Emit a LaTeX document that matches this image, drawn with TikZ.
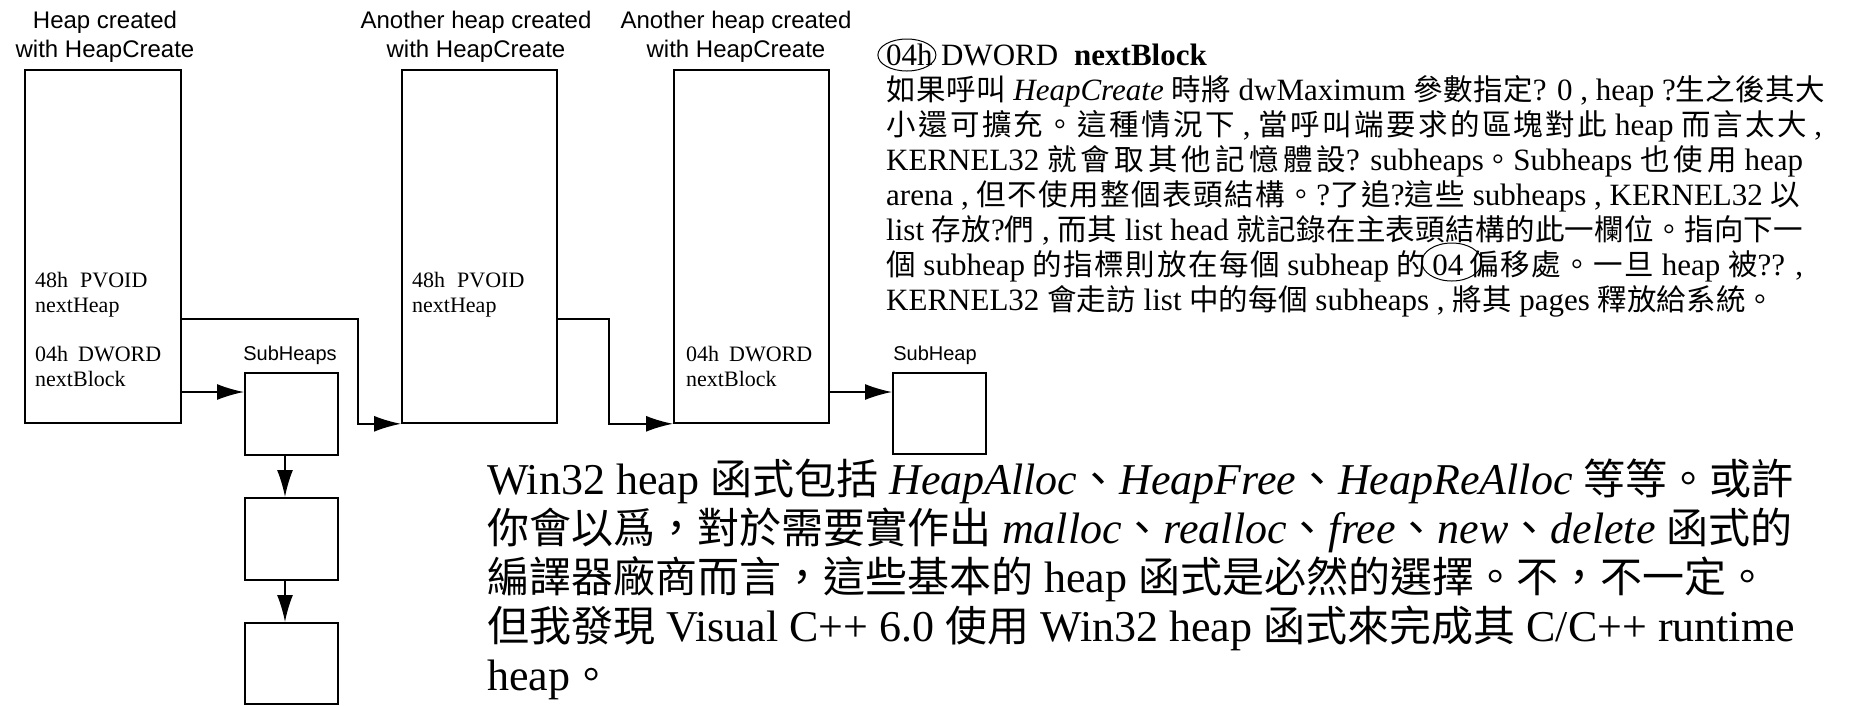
\documentclass[tikz,border=0pt]{standalone}
\usepackage{fontspec}
\newfontfamily\sansf{Liberation Sans}
\setmainfont{Liberation Serif}
\newfontfamily\cjk{Noto Sans CJK TC}
\usetikzlibrary{arrows.meta,calc}
\def\cjksize{29.5}
\def\Cfirst#1{#1\Cnext}
\def\Cnext#1{\ifx\relax#1\else\hskip0pt plus 1fil\relax#1\expandafter\Cnext\fi}
\newcommand\C[1]{{\cjk\fontsize{\cjksize}{\cjksize}\selectfont\Cfirst#1\relax}}
\newcommand\ringtxt[1]{\tikz[baseline=0pt,x=1pt,y=1pt]{\node[inner sep=0pt,anchor=base] (o04) at (0,0) {#1}; \draw[overlay,line width=1pt] ($(o04.base)+(4,13)$) ellipse [x radius=30, y radius=19];}}
\begin{document}
\begin{tikzpicture}[x=1pt,y=-1pt,
  box/.style={draw, line width=1.8pt, inner sep=0pt, anchor=north west},
  arr/.style={line width=1.7pt, -{Latex[length=27pt,width=16pt]}},
  ttl/.style={anchor=base, inner sep=0pt, font=\sansf\fontsize{24}{28}\selectfont},
  sub/.style={anchor=base, inner sep=0pt, font=\sansf\fontsize{20}{24}\selectfont},
  lab/.style={anchor=base west, inner sep=0pt, font=\fontsize{22}{25}\selectfont},
  para/.style={anchor=base west, inner sep=0pt, font=\def\cjksize{29.5}\fontsize{31}{34}\selectfont},
  body/.style={anchor=base west, inner sep=0pt, font=\def\cjksize{42}\fontsize{44}{48}\selectfont},
  ring/.style={line width=1pt}]
\fill[white] (0,0) rectangle (1850,705);
\useasboundingbox (0,0) rectangle (1850,705);

% titles
\node[ttl] (t1a) at (105,28) {Heap created};
\node[ttl] (t1b) at (105,57) {with HeapCreate};
\node[ttl] (t2a) at (476,28) {Another heap created};
\node[ttl] (t2b) at (476,57) {with HeapCreate};
\node[ttl] (t3a) at (736,28) {Another heap created};
\node[ttl] (t3b) at (736,57) {with HeapCreate};

% heap boxes
\node[box, minimum width=156pt, minimum height=353pt] (b1) at (24,69) {};
\node[box, minimum width=155pt, minimum height=353pt] (b2) at (401,69) {};
\node[box, minimum width=155pt, minimum height=353pt] (b3) at (673,69) {};

% subheap boxes
\node[box, minimum width=93pt, minimum height=82pt] (sh1) at (244,372) {};
\node[box, minimum width=93pt, minimum height=82pt] (sh2) at (244,497) {};
\node[box, minimum width=93pt, minimum height=81pt] (sh3) at (244,622) {};
\node[box, minimum width=93pt, minimum height=81pt] (shr) at (892,372) {};

\node[sub] (s1) at (290,360) {SubHeaps};
\node[sub] (s2) at (935,360) {SubHeap};

% box labels
\node[lab] (l1a) at (35,287) {48h\hspace{12pt}PVOID};
\node[lab] (l1b) at (35,312) {nextHeap};
\node[lab] (l1c) at (35,361) {04h\hspace{10pt}DWORD};
\node[lab] (l1d) at (35,386) {nextBlock};
\node[lab] (l2a) at (412,287) {48h\hspace{12pt}PVOID};
\node[lab] (l2b) at (412,312) {nextHeap};
\node[lab] (l3c) at (686,361) {04h\hspace{10pt}DWORD};
\node[lab] (l3d) at (686,386) {nextBlock};

% connectors
\draw[arr] (b1.east |- 0,319) -- (358,319) |- (b2.south west);
\draw[arr] (b2.east |- 0,319) -- (609,319) |- (b3.south west);
\draw[arr] (b1.east |- 0,392) -- (sh1.west |- 0,392);
\draw[arr] (b3.east |- 0,392) -- (shr.west |- 0,392);
\draw[arr] (sh1.south -| 285,0) -- (sh2.north -| 285,0);
\draw[arr] (sh2.south -| 285,0) -- (sh3.north -| 285,0);

% top-right paragraph
\node[para] (o4h) at (886,65) {04h};
\node[para] (p1) at (o4h.base east) {\hspace{8pt}DWORD\hspace{16pt}\textbf{nextBlock}};
\draw[ring] ($(o4h.base east)+(-26,-10)$) ellipse [x radius=29, y radius=16];
\node[para] (p2) at (886,100) {\hbox to 939pt{\C{如果呼叫} \textit{HeapCreate} \C{時將} dwMaximum \C{參數指定}? 0 , heap ?\C{生之後其大}}};
\node[para] (p3) at (886,135) {\hbox to 936pt{\C{小還可擴充。這種情況下} , \C{當呼叫端要求的區塊對此} heap \C{而言太大} ,}};
\node[para] (p4) at (886,170) {\hbox to 917pt{KERNEL32 \C{就會取其他記憶體設}? subheaps\C{。}Subheaps \C{也使用} heap}};
\node[para] (p5) at (886,205) {\hbox to 914pt{arena , \C{但不使用整個表頭結構。}?\C{了追}?\C{這些} subheaps , KERNEL32 \C{以}}};
\node[para] (p6) at (886,240) {\hbox to 917pt{list \C{存放}?\C{們} , \C{而其} list head \C{就記錄在主表頭結構的此一欄位。指向下一}}};
\node[para] (p7) at (886,275) {\hbox to 917pt{\C{個} subheap \C{的指標則放在每個} subheap \C{的}\hspace{6pt}\ringtxt{04}\hspace{6pt}\C{偏移處。一旦} heap \C{被}?? ,}};
\node[para] (p8) at (886,310) {\hbox to 889pt{KERNEL32 \C{會走訪} list \C{中的每個} subheaps , \C{將其} pages \C{釋放給系統。}}};

% bottom paragraph
\node[body] (q1) at (487,494) {Win32 heap \C{函式包括} \textit{HeapAlloc}\C{、}\textit{HeapFree}\C{、}\textit{HeapReAlloc} \C{等等。或許}};
\node[body] (q2) at (487,543) {\C{你會以爲，對於需要實作出} \textit{malloc}\C{、}\textit{realloc}\C{、}\textit{free}\C{、}\textit{new}\C{、}\textit{delete} \C{函式的}};
\node[body] (q3) at (487,592) {\C{編譯器廠商而言，這些基本的} heap \C{函式是必然的選擇。不，不一定。}};
\node[body] (q4) at (487,641) {\C{但我發現} Visual C++ 6.0 \C{使用} Win32 heap \C{函式來完成其} C/C++ runtime};
\node[body] (q5) at (487,690) {heap\C{。}};
\end{tikzpicture}
\end{document}
